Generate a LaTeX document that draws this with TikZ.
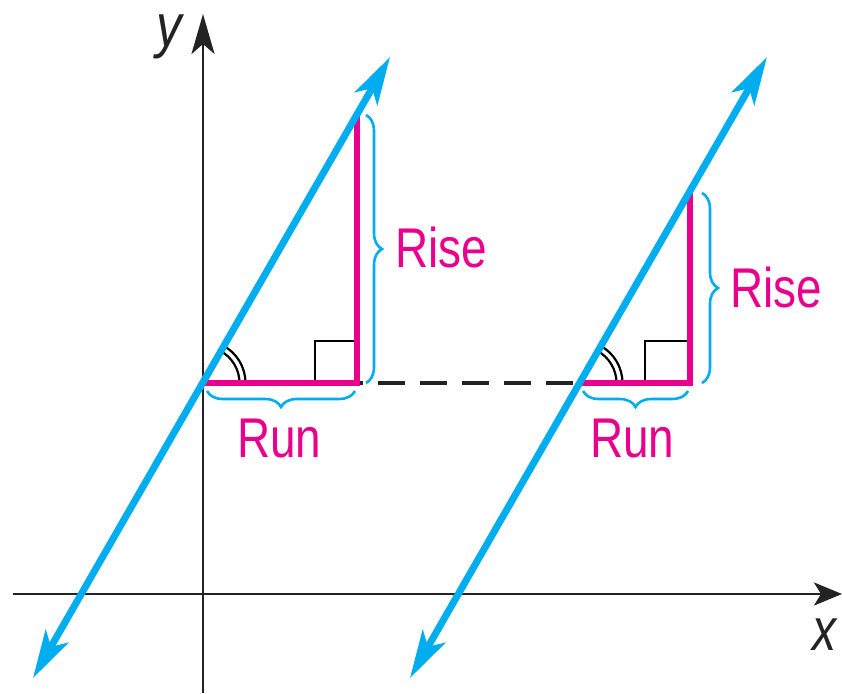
\documentclass[tikz,border=0pt]{standalone}
\usepackage{fontspec}
\setmainfont{Liberation Sans}
\usetikzlibrary{arrows.meta,decorations.pathreplacing,calc}
\definecolor{cyanline}{RGB}{0,174,239}
\definecolor{magentaline}{RGB}{233,0,140}
\definecolor{axisgray}{RGB}{35,35,35}
\begin{document}
\begin{tikzpicture}[x=1pt,y=-1pt,
  axis/.style={line width=2.6pt, draw=axisgray},
  blueline/.style={line width=7pt, draw=cyanline, fill=cyanline,
    {Stealth[length=48pt,width=26pt,inset=12pt]}-{Stealth[length=48pt,width=26pt,inset=12pt]}},
  legline/.style={line width=5.5pt, draw=magentaline, line cap=butt, line join=miter},
  rightmark/.style={line width=2.6pt, draw=black},
  anglemark/.style={line width=2.2pt, draw=black},
  bracemark/.style={line width=2.6pt, draw=cyanline, decorate, decoration={brace, amplitude=16pt}},
  dashline/.style={line width=3.8pt, draw=axisgray, dash pattern=on 27pt off 15pt, dash phase=21pt},
  wordlabel/.style={text=magentaline, font=\fontsize{56}{60}\selectfont, inner sep=0pt, anchor=base west},
  axlabel/.style={text=axisgray, font=\fontsize{60}{64}\selectfont\itshape, inner sep=0pt, anchor=base west},
]
\fill[white] (0,0) rectangle (842,693);
\useasboundingbox (0,0) rectangle (842,693);

% coordinates
\coordinate (A1) at (203,383);
\coordinate (C1) at (357,383);
\coordinate (T1) at (357,115);
\coordinate (A2) at (580,383);
\coordinate (C2) at (690,383);
\coordinate (T2) at (690,192);
\coordinate (L1s) at (33,678);
\coordinate (L1e) at (390,57);
\coordinate (L2s) at (410,678);
\coordinate (L2e) at (767,57);
\coordinate (Ys) at (203,693);
\coordinate (Ye) at (203,14);
\coordinate (Xs) at (13,594);
\coordinate (Xe) at (842,594);

% axes
\draw[axis, -{Stealth[length=40pt,width=23pt,inset=10pt]}] (Ys) -- (Ye);
\draw[axis, -{Stealth[length=28pt,width=23pt,inset=7pt]}] (Xs) -- (Xe);

% dashed connector
\draw[dashline] (C1) -- (A2);

% right-angle marks
\coordinate (S1a) at (315,383); \coordinate (S1b) at (315,341); \coordinate (S1c) at (357,341);
\coordinate (S2a) at (645,383); \coordinate (S2b) at (645,341); \coordinate (S2c) at (690,341);
\draw[rightmark] (S1a) -- (S1b) -- (S1c);
\draw[rightmark] (S2a) -- (S2b) -- (S2c);

% angle marks
\draw[anglemark] (A1) ++(36.5,0) arc[start angle=0, end angle=-62, radius=36.5];
\draw[anglemark] (A1) ++(42.5,0) arc[start angle=0, end angle=-62, radius=42.5];
\draw[anglemark] (A2) ++(36.5,0) arc[start angle=0, end angle=-62, radius=36.5];
\draw[anglemark] (A2) ++(42.5,0) arc[start angle=0, end angle=-62, radius=42.5];

% legs
\draw[legline] (A1) -- (C1) -- (T1);
\draw[legline] (A2) -- (C2) -- (T2);

% lines
\draw[blueline] (L1s) -- (L1e);
\draw[blueline] (L2s) -- (L2e);

% braces
\coordinate (B1a) at (355,391); \coordinate (B1b) at (207,391);
\coordinate (B2a) at (366,115); \coordinate (B2b) at (366,383);
\coordinate (B3a) at (688,391); \coordinate (B3b) at (583,391);
\coordinate (B4a) at (702,193); \coordinate (B4b) at (702,383);
\draw[bracemark] (B1a) -- (B1b);
\draw[bracemark] (B2a) -- (B2b);
\draw[bracemark] (B3a) -- (B3b);
\draw[bracemark] (B4a) -- (B4b);

% labels
\node[wordlabel] (rise1) at (395,267) {\scalebox{0.82}[1]{Rise}};
\node[wordlabel] (rise2) at (730,307) {\scalebox{0.82}[1]{Rise}};
\node[wordlabel] (run1) at (237,457) {\scalebox{0.82}[1]{Run}};
\node[wordlabel] (run2) at (590,457) {\scalebox{0.82}[1]{Run}};
\node[axlabel] (ylab) at (156,47) {\scalebox{0.85}[1]{y}};
\node[axlabel] (xlab) at (812,650) {\scalebox{0.8}[1]{x}};
\end{tikzpicture}
\end{document}
